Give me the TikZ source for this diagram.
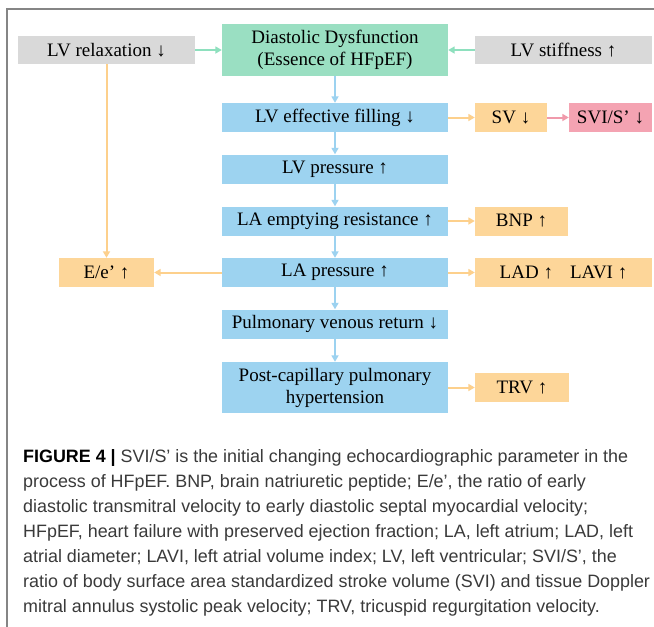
\documentclass[tikz,border=0pt]{standalone}
\usepackage{fontspec}
\setmainfont{Liberation Serif}
\setsansfont{Liberation Sans}
\usetikzlibrary{arrows.meta}
\definecolor{boxgray}{HTML}{D9D9D9}
\definecolor{boxgreen}{HTML}{9ADFC2}
\definecolor{boxblue}{HTML}{9DD3F0}
\definecolor{boxorange}{HTML}{FDD699}
\definecolor{boxpink}{HTML}{F4A3B2}
\definecolor{arrgreen}{HTML}{8EE0BE}
\definecolor{arrblue}{HTML}{9CD2F0}
\definecolor{arrorange}{HTML}{FDD08C}
\definecolor{arrpink}{HTML}{F09AAB}
\definecolor{framegray}{HTML}{858585}
\definecolor{captext}{HTML}{3A3A3A}
\tikzset{
  bx/.style={rectangle, inner sep=0pt, text=black, font=\fontsize{19}{22}\selectfont, align=center},
  gbox/.style={bx, fill=boxgray},
  grbox/.style={bx, fill=boxgreen},
  blbox/.style={bx, fill=boxblue},
  orbox/.style={bx, fill=boxorange},
  pkbox/.style={bx, fill=boxpink},
  conn/.style={line width=2pt, -{Triangle[length=6.5pt,width=7pt]}},
  cgreen/.style={conn, draw=arrgreen},
  cblue/.style={conn, draw=arrblue},
  corange/.style={conn, draw=arrorange},
  cpink/.style={conn, draw=arrpink},
  captxt/.style={anchor=base west, inner sep=0pt, text=captext, font=\sffamily\fontsize{17.9}{20}\selectfont}
}
\begin{document}
\begin{tikzpicture}[x=1pt,y=-1pt]
\useasboundingbox (0,0) rectangle (654,627);
\fill[white] (0,0) rectangle (654,627);
\draw[framegray, line width=1.5pt] (7,630) -- (7,9) -- (656,9);

\node[gbox, minimum width=177pt, minimum height=28pt] (lvrel) at (106.5,50) {LV relaxation ↓};
\node[grbox, minimum width=226pt, minimum height=52pt] (diast) at (335,50) {Diastolic Dysfunction\\(Essence of HFpEF)};
\node[gbox, minimum width=177pt, minimum height=28pt] (lvstiff) at (563.5,50) {LV stiffness ↑};

\node[blbox, minimum width=226pt, minimum height=29pt] (fill) at (335,117.5) {LV effective filling ↓};
\node[orbox, minimum width=72pt, minimum height=29pt] (sv) at (511,117.5) {SV ↓};
\node[pkbox, minimum width=83pt, minimum height=29pt] (svi) at (610.5,117.5) {SVI/S’ ↓};

\node[blbox, minimum width=226pt, minimum height=29pt] (lvp) at (335,169) {LV pressure ↑};

\node[blbox, minimum width=226pt, minimum height=29pt] (lae) at (335,221) {LA emptying resistance ↑};
\node[orbox, minimum width=93pt, minimum height=29pt] (bnp) at (521.5,221) {BNP ↑};

\node[blbox, minimum width=226pt, minimum height=29pt] (lap) at (335,272.5) {LA pressure ↑};
\node[orbox, minimum width=95pt, minimum height=29pt] (ee) at (106.5,272.5) {E/e’ ↑};
\node[orbox, minimum width=177pt, minimum height=29pt] (lad) at (563.5,272.5) {LAD ↑\hspace{0.9em}LAVI ↑};

\node[blbox, minimum width=226pt, minimum height=29pt] (pvr) at (335,324) {Pulmonary venous return ↓};

\node[blbox, minimum width=226pt, minimum height=51pt] (pch) at (335,387.5) {Post-capillary pulmonary\\hypertension};
\node[orbox, minimum width=94pt, minimum height=29pt] (trv) at (522,387.5) {TRV ↑};

\draw[cgreen] (lvrel) -- (diast);
\draw[cgreen] (lvstiff) -- (diast);
\draw[cblue] (diast) -- (fill);
\draw[cblue] (fill) -- (lvp);
\draw[cblue] (lvp) -- (lae);
\draw[cblue] (lae) -- (lap);
\draw[cblue] (lap) -- (pvr);
\draw[cblue] (pvr) -- (pch);
\draw[corange] (fill) -- (sv);
\draw[cpink] (sv) -- (svi);
\draw[corange] (lae) -- (bnp);
\draw[corange] (lap) -- (lad);
\draw[corange] (lap) -- (ee);
\draw[corange] (lvrel) -- (ee);
\draw[corange] (pch.east |- trv) -- (trv);

\node[captxt] (c1) at (23,462) {\textbf{\color{black}FIGURE 4 |} SVI/S’ is the initial changing echocardiographic parameter in the};
\node[captxt] (c2) at (23,487) {process of HFpEF. BNP, brain natriuretic peptide; E/e’, the ratio of early};
\node[captxt] (c3) at (23,512) {diastolic transmitral velocity to early diastolic septal myocardial velocity;};
\node[captxt] (c4) at (23,537) {HFpEF, heart failure with preserved ejection fraction; LA, left atrium; LAD, left};
\node[captxt] (c5) at (23,562) {atrial diameter; LAVI, left atrial volume index; LV, left ventricular; SVI/S’, the};
\node[captxt] (c6) at (23,587) {ratio of body surface area standardized stroke volume (SVI) and tissue Doppler};
\node[captxt] (c7) at (23,612) {mitral annulus systolic peak velocity; TRV, tricuspid regurgitation velocity.};
\end{tikzpicture}
\end{document}
